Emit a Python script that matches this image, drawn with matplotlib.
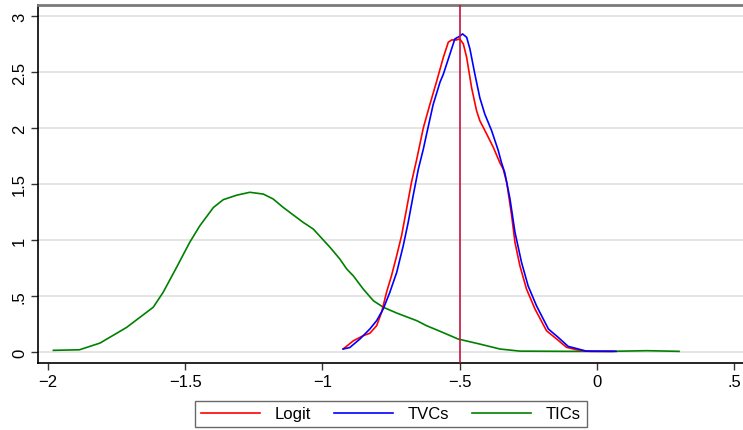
import matplotlib
matplotlib.use("Agg")
import matplotlib.pyplot as plt
from matplotlib.lines import Line2D

plt.rcParams['font.family'] = ['Liberation Sans', 'DejaVu Sans']

# TICs (green)
tic_x = [-1.98, -1.885, -1.81, -1.713, -1.616, -1.58, -1.531, -1.483, -1.446, -1.397,
         -1.361, -1.312, -1.264, -1.215, -1.179, -1.142, -1.07, -1.033, -0.972, -0.936,
         -0.911, -0.887, -0.851, -0.814, -0.778, -0.729, -0.656, -0.62, -0.571, -0.505,
         -0.426, -0.353, -0.28, -0.1, 0.05, 0.183, 0.30]
tic_y = [0.015, 0.02, 0.08, 0.22, 0.40, 0.533, 0.756, 0.98, 1.128, 1.29,
         1.36, 1.40, 1.426, 1.41, 1.366, 1.29, 1.158, 1.098, 0.935, 0.83,
         0.741, 0.68, 0.5625, 0.458, 0.40, 0.348, 0.28, 0.235, 0.185, 0.116,
         0.071, 0.027, 0.008, 0.006, 0.006, 0.012, 0.006]

# Logit (red)
logit_x = [-0.924, -0.887, -0.851, -0.827, -0.802, -0.784, -0.766, -0.748, -0.729, -0.711,
           -0.693, -0.675, -0.656, -0.644, -0.632, -0.608, -0.583, -0.559, -0.541, -0.529,
           -0.511, -0.499, -0.486, -0.474, -0.456, -0.438, -0.426, -0.401, -0.377, -0.353,
           -0.341, -0.328, -0.31, -0.298, -0.28, -0.256, -0.225, -0.183, -0.146, -0.11,
           -0.073, -0.025, 0.06]
logit_y = [0.027, 0.10, 0.146, 0.167, 0.235, 0.354, 0.533, 0.68, 0.86, 1.04,
           1.277, 1.515, 1.72, 1.86, 2.0, 2.21, 2.42, 2.63, 2.765, 2.786,
           2.786, 2.795, 2.75, 2.63, 2.36, 2.155, 2.065, 1.946, 1.828, 1.69,
           1.634, 1.515, 1.217, 0.98, 0.77, 0.5625, 0.384, 0.19, 0.116, 0.042,
           0.02, 0.006, 0.006]

# TVCs (blue)
tvc_x = [-0.924, -0.90, -0.863, -0.827, -0.802, -0.778, -0.754, -0.729, -0.705, -0.687,
         -0.669, -0.65, -0.632, -0.62, -0.596, -0.571, -0.559, -0.535, -0.517, -0.499,
         -0.489, -0.474, -0.462, -0.444, -0.426, -0.408, -0.383, -0.359, -0.347, -0.335,
         -0.316, -0.298, -0.274, -0.25, -0.219, -0.176, -0.14, -0.104, -0.067, -0.04, 0.07]
tvc_y = [0.027, 0.04, 0.116, 0.205, 0.28, 0.384, 0.533, 0.71, 0.95, 1.158,
         1.395, 1.634, 1.81, 1.946, 2.21, 2.41, 2.48, 2.66, 2.795, 2.82,
         2.84, 2.81, 2.705, 2.48, 2.27, 2.125, 1.976, 1.80, 1.69, 1.60,
         1.366, 1.07, 0.80, 0.59, 0.41, 0.205, 0.13, 0.05, 0.027, 0.008, 0.006]

xticks = [-2, -1.5, -1, -0.5, 0, 0.5]
xticklabels = ['\u22122', '\u22121.5', '\u22121', '\u2212.5', '0', '.5']
yticks = [0, 0.5, 1, 1.5, 2, 2.5, 3]
yticklabels = ['0', '.5', '1', '1.5', '2', '2.5', '3']
vline_x = -0.5

W, H = 743, 431
fig = plt.figure(figsize=(W / 100, H / 100), dpi=100)
ax = fig.add_axes([38 / W, 1 - 364 / H, (743 - 38) / W, (364 - 6) / H])

ax.set_xlim(-2.036, 0.533)
ax.set_ylim(-0.098, 3.098)

for yv in yticks:
    ax.axhline(yv, color='#e3e3e3', lw=1.3, zorder=0)

ax.plot(logit_x, logit_y, color='#ff0000', lw=1.2, label='Logit', zorder=3)
ax.plot(tvc_x, tvc_y, color='#0000ff', lw=1.2, label='TVCs', zorder=4)
ax.plot(tic_x, tic_y, color='#008000', lw=1.2, label='TICs', zorder=2)
ax.axvline(vline_x, color='#c4123f', lw=1.2, zorder=5)

ax.set_xticks(xticks)
ax.set_xticklabels(xticklabels)
ax.set_yticks(yticks)
ax.set_yticklabels(yticklabels, rotation=90, va='center')
ax.tick_params(axis='both', labelsize=12, length=5, width=1, color='#333333')
ax.tick_params(axis='y', pad=3)
ax.tick_params(axis='x', pad=3)

ax.spines['right'].set_visible(False)
ax.spines['top'].set_color('#7a7a7a')
ax.spines['top'].set_linewidth(2)
ax.spines['left'].set_color('black')
ax.spines['bottom'].set_color('black')
ax.spines['left'].set_linewidth(1.2)
ax.spines['bottom'].set_linewidth(1.2)

handles = [Line2D([], [], color='#ff0000', lw=1.2),
           Line2D([], [], color='#0000ff', lw=1.2),
           Line2D([], [], color='#008000', lw=1.2)]
leg = fig.legend(handles, ['Logit', 'TVCs', 'TICs'], loc='center',
                 bbox_to_anchor=(391 / W, 1 - 415 / H), ncol=3, frameon=True,
                 fontsize=12, handlelength=3.5, columnspacing=1.4,
                 handletextpad=0.9, fancybox=False, borderpad=0.35)
leg.get_frame().set_edgecolor('#444444')
leg.get_frame().set_linewidth(1)

fig.savefig('out.png', dpi=100)
